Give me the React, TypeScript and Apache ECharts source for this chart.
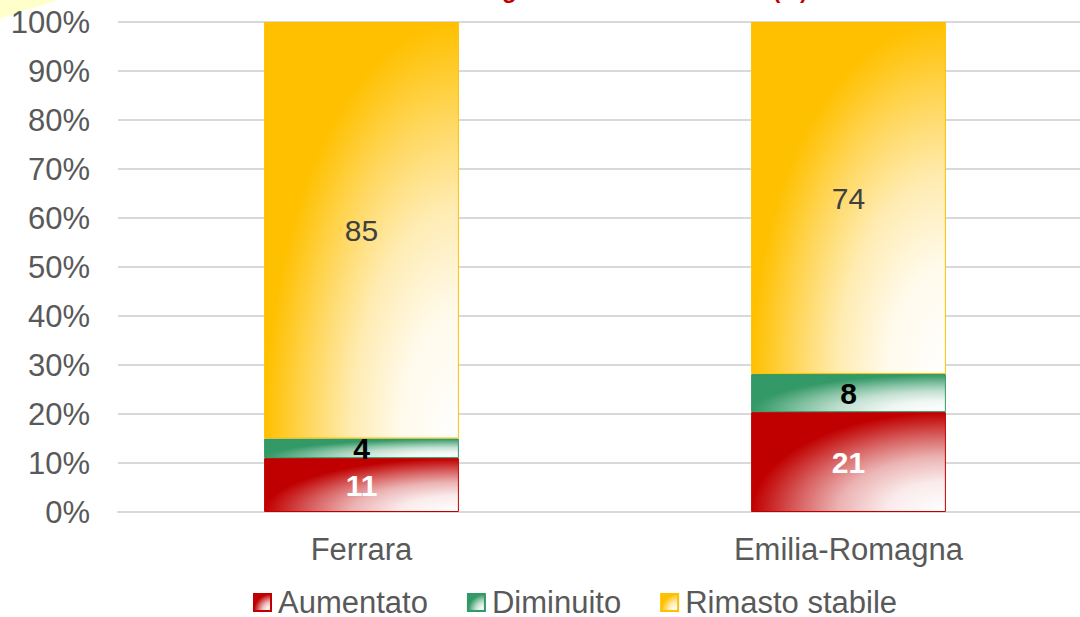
import React, { useEffect, useRef } from "react";
import * as echarts from "echarts";

const categories = ["Ferrara", "Emilia-Romagna"];
const seriesNames = ["Aumentato", "Diminuito", "Rimasto stabile"];
const aumentato = [11, 21];
const diminuito = [4, 8];
const rimastoStabile = [85, 74];
const yTicks = [0, 10, 20, 30, 40, 50, 60, 70, 80, 90, 100];

const baseColors = ["#C00000", "#339966", "#FFC000"];
const labelColors = ["#FFFFFF", "#000000", "#404040"];
const labelWeights = ["bold", "bold", "normal"];

const FONT = "Arial, 'Liberation Sans', sans-serif";

function mix(c: string, f: number) {
  const n = parseInt(c.slice(1), 16);
  const ch = [(n >> 16) & 255, (n >> 8) & 255, n & 255].map((v) =>
    Math.round(255 - (255 - v) * f)
  );
  return "#" + ch.map((v) => v.toString(16).padStart(2, "0")).join("");
}

function grad(c: string) {
  return new echarts.graphic.RadialGradient(1, 1, 1, [
    { offset: 0, color: "#FFFFFF" },
    { offset: 0.3, color: mix(c, 0.08) },
    { offset: 0.55, color: mix(c, 0.3) },
    { offset: 0.75, color: mix(c, 0.6) },
    { offset: 0.92, color: mix(c, 0.88) },
    { offset: 1, color: c },
  ]);
}

export default function App() {
  const ref = useRef<HTMLDivElement>(null);
  useEffect(() => {
    if (!ref.current) return;
    const chart = echarts.init(ref.current, null, { renderer: "svg" });
    const all = [aumentato, diminuito, rimastoStabile];
    const totals = categories.map((_, i) => all.reduce((s, arr) => s + arr[i], 0));
    const series = all.map((arr, si) => ({
      name: seriesNames[si],
      type: "bar",
      stack: "total",
      barWidth: "40%",
      itemStyle: {
        color: grad(baseColors[si]),
        borderColor: baseColors[si],
        borderWidth: 1,
      },
      label: {
        show: true,
        position: "inside",
        color: labelColors[si],
        fontWeight: labelWeights[si],
        fontSize: 30,
        fontFamily: FONT,
        formatter: (p: any) => String(p.data.raw),
      },
      data: arr.map((v, i) => ({ value: (v / totals[i]) * 100, raw: v })),
    }));
    chart.setOption({
      animation: false,
      backgroundColor: "#FFFFFF",
      grid: {
        left: 118,
        width: 974,
        top: 22,
        height: 490,
        containLabel: false,
        outerBoundsMode: "none",
      },
      legend: {
        left: 253,
        top: 587,
        padding: 0,
        itemWidth: 17,
        itemHeight: 17,
        itemGap: 39,
        icon: "rect",
        textStyle: { color: "#595959", fontSize: 31, fontFamily: FONT, padding: [0, 0, 0, 2] },
        data: seriesNames,
      },
      xAxis: {
        type: "category",
        data: categories,
        axisLine: { lineStyle: { color: "#D9D9D9", width: 2 } },
        axisTick: { show: false },
        axisLabel: { color: "#595959", fontSize: 31, fontFamily: FONT, margin: 22 },
      },
      yAxis: {
        type: "value",
        min: yTicks[0],
        max: yTicks[yTicks.length - 1],
        interval: 10,
        axisLine: { show: false },
        axisTick: { show: false },
        splitLine: { lineStyle: { color: "#D9D9D9", width: 2 } },
        axisLabel: { color: "#595959", fontSize: 31, fontFamily: FONT, margin: 28, formatter: "{value}%" },
      },
      graphic: [
        {
          type: "polygon",
          shape: { points: [[0, 0], [58, 0], [40, 6], [20, 12], [0, 19]] },
          style: { fill: "#FFFFCC" },
          z: -1,
        },
        {
          type: "text",
          x: 502,
          y: 1,
          style: { text: "g", font: "bold 24px " + FONT, fill: "#C00000", verticalAlign: "bottom" },
        },
        {
          type: "text",
          x: 773,
          y: 1,
          style: { text: "(%)", font: "bold 22px " + FONT, fill: "#C00000", verticalAlign: "bottom" },
        },
      ],
      series,
    });
    return () => chart.dispose();
  }, []);
  return (
    <div
      ref={ref}
      style={{ position: "absolute", left: 0, top: 0, width: 1080, height: 617 }}
    />
  );
}
